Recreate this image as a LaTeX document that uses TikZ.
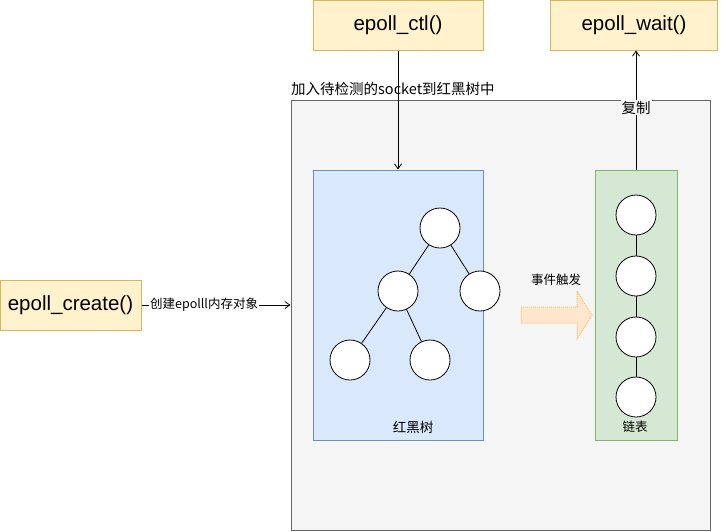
\documentclass[tikz,border=0pt]{standalone}
\usepackage{fontspec}
\setmainfont{Liberation Sans}
\newfontfamily\cjk{Noto Sans CJK SC}
\usetikzlibrary{arrows.meta}
\definecolor{yfill}{HTML}{FFF2CC}
\definecolor{ydraw}{HTML}{D6B656}
\definecolor{gfill}{HTML}{F5F5F5}
\definecolor{gdraw}{HTML}{666666}
\definecolor{bfill}{HTML}{DAE8FC}
\definecolor{bdraw}{HTML}{6C8EBF}
\definecolor{grfill}{HTML}{D5E8D4}
\definecolor{grdraw}{HTML}{82B366}
\definecolor{ofill}{HTML}{FFE6CC}
\definecolor{odraw}{HTML}{F5C26B}
\begin{document}
\begin{tikzpicture}[x=1pt,y=-1pt,
  fnbox/.style={draw=ydraw,fill=yfill,line width=1pt,inner sep=0pt,font=\fontsize{20.5}{24}\selectfont},
  tnode/.style={circle,draw=black,fill=white,minimum size=40pt,inner sep=0pt,line width=0.8pt},
  lbl/.style={font=\cjk\fontsize{12.5}{14}\selectfont,inner sep=1pt},
  conn/.style={-{Straight Barb[length=5pt,width=7pt]},line width=0.8pt}]
\useasboundingbox (0,0) rectangle (721,531);
% containers
\node[draw=gdraw,fill=gfill,line width=1pt,minimum width=419pt,minimum height=430pt,inner sep=0pt] (outer) at (500.5,315) {};
\node[draw=bdraw,fill=bfill,line width=1pt,minimum width=170pt,minimum height=270pt,inner sep=0pt] (rbt) at (398,305) {};
\node[draw=grdraw,fill=grfill,line width=1pt,minimum width=82pt,minimum height=270pt,inner sep=0pt] (lst) at (636,305) {};
\node[lbl,font=\cjk\fontsize{13.5}{15}\selectfont] (rbtl) at (413,427) {红黑树};
\node[lbl] (lstl) at (635,427) {链表};
% function boxes
\node[fnbox,minimum width=141pt,minimum height=50pt] (create) at (70.5,305) {epoll\_create()};
\node[fnbox,minimum width=170pt,minimum height=50pt] (ctl) at (398,25) {epoll\_ctl()};
\node[fnbox,minimum width=167pt,minimum height=50pt] (wait) at (634,25) {epoll\_wait()};
% tree
\node[tnode] (t1) at (440,228) {};
\node[tnode] (t2) at (398,291) {};
\node[tnode] (t3) at (480,291) {};
\node[tnode] (t4) at (350,360) {};
\node[tnode] (t5) at (430,360) {};
\draw[line width=0.8pt] (t1) -- (t2) (t1) -- (t3) (t2) -- (t4) (t2) -- (t5);
% list
\node[tnode] (l1) at (636,215) {};
\node[tnode] (l2) at (636,276) {};
\node[tnode] (l3) at (636,337) {};
\node[tnode] (l4) at (636,397) {};
\draw[line width=0.8pt] (l1) -- (l2) (l2) -- (l3) (l3) -- (l4);
% block arrow
\draw[draw=odraw,fill=ofill,densely dotted,line width=1pt,line join=miter]
  (521,307) -- (577,307) -- (577,291) -- (592,315) -- (577,339) -- (577,323) -- (521,323) -- cycle;
\node[lbl] (evl) at (556,280) {事件触发};
% connectors
\draw[conn] (create.east) -- (outer.west|-create.east) node[pos=0.42,lbl,fill=white] {创建epolll内存对象};
\draw[conn] (ctl.south) -- (rbt.north);
\node[lbl,anchor=west,font=\cjk\fontsize{14.5}{16}\selectfont] (ctll) at (290,89) {加入待检测的socket到红黑树中};
\draw[conn] (lst.north) -- (wait.south-|lst.north) node[pos=0.52,lbl,fill=gfill,font=\cjk\fontsize{14.5}{16}\selectfont] {复制};
\end{tikzpicture}
\end{document}
